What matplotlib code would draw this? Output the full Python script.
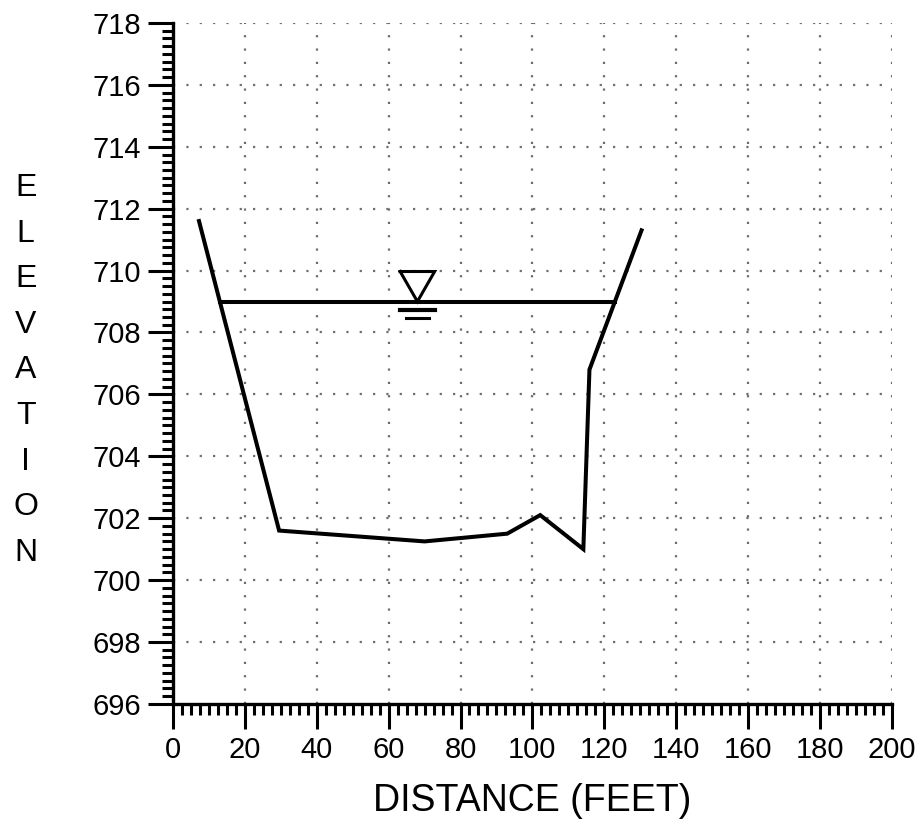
import numpy as np
import matplotlib
matplotlib.use("Agg")
import matplotlib.pyplot as plt
from matplotlib.ticker import MultipleLocator

# cross-section survey (distance in feet, elevation in feet)
distance = [7.2, 29.5, 70.0, 93.0, 102.2, 114.2, 115.9, 130.4]
elevation = [711.6, 701.6, 701.25, 701.5, 702.1, 701.0, 706.8, 711.3]

water_elev = 709.0
water_mark_x = 68.0

x_ticks = [0, 20, 40, 60, 80, 100, 120, 140, 160, 180, 200]
y_ticks = [696, 698, 700, 702, 704, 706, 708, 710, 712, 714, 716, 718]


def crossings(xs, ys, level):
    # x positions where the profile crosses a given elevation
    out = []
    for i in range(len(xs) - 1):
        y0, y1 = ys[i] - level, ys[i + 1] - level
        if y0 * y1 < 0:
            t = y0 / (y0 - y1)
            out.append(xs[i] + t * (xs[i + 1] - xs[i]))
    return out


plt.rcParams['font.family'] = ['Liberation Sans', 'DejaVu Sans']

fig = plt.figure(figsize=(9.21, 8.35), dpi=100)
ax = fig.add_axes([0.188, 0.157, 0.780, 0.8155])

grid_style = {'color': '#6e6e6e', 'linestyle': (0, (1, 5)), 'linewidth': 1.6, 'zorder': 0}
for xv in x_ticks[1:]:
    ax.axvline(xv, **grid_style)
for yv in y_ticks[1:]:
    ax.axhline(yv, **grid_style)

ax.plot(distance, elevation, color='black', lw=2.9, solid_joinstyle='miter', zorder=3)

xs = crossings(distance, elevation, water_elev)
ax.plot([xs[0], xs[-1]], [water_elev, water_elev], color='black', lw=2.9, zorder=3)

# water surface symbol
half_w, tri_h = 4.8, 0.97
ax.plot([water_mark_x - half_w, water_mark_x + half_w, water_mark_x, water_mark_x - half_w],
        [water_elev + tri_h, water_elev + tri_h, water_elev, water_elev + tri_h],
        color='black', lw=2.2, solid_joinstyle='miter', zorder=3)
ax.plot([water_mark_x - 4.8, water_mark_x + 4.8], [water_elev - 0.27, water_elev - 0.27], color='black', lw=3.0)
ax.plot([water_mark_x - 3.2, water_mark_x + 3.2], [water_elev - 0.52, water_elev - 0.52], color='black', lw=2.2)

ax.set_xlim(0, 200)
ax.set_ylim(696, 718)
ax.set_xticks(x_ticks)
ax.set_yticks(y_ticks)
ax.xaxis.set_minor_locator(MultipleLocator(2.5))
ax.yaxis.set_minor_locator(MultipleLocator(0.25))

for side in ['top', 'right']:
    ax.spines[side].set_visible(False)
for side in ['left', 'bottom']:
    ax.spines[side].set_linewidth(2.4)

ax.tick_params(which='major', length=18, width=2.2, labelsize=21, pad=5, direction='out')
ax.tick_params(which='minor', length=8, width=2.2, direction='out')

ax.set_xlabel('DISTANCE (FEET)', fontsize=27, labelpad=14)

label = 'ELEVATION'
for i, ch in enumerate(label):
    fig.text(0.028, 1 - (188 + i * 45.6) / 835, ch, fontsize=23, ha='center', va='center')

fig.savefig('out.png', dpi=100)
